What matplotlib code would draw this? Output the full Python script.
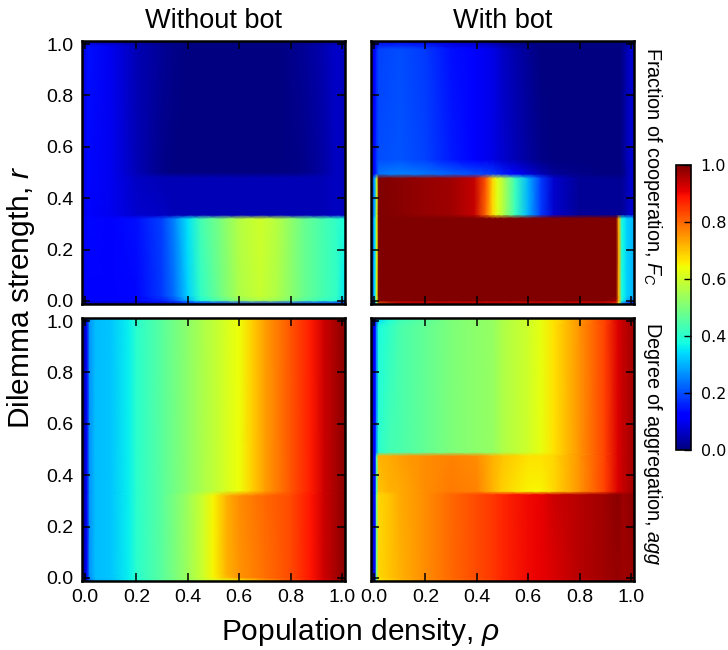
import matplotlib
matplotlib.use("Agg")
import matplotlib.pyplot as plt
import numpy as np

plt.rcParams['font.family'] = ['Liberation Sans', 'DejaVu Sans']
plt.rcParams['mathtext.fontset'] = 'custom'
plt.rcParams['mathtext.rm'] = 'Liberation Sans'
plt.rcParams['mathtext.it'] = 'Liberation Sans:italic'
plt.rcParams['mathtext.bf'] = 'Liberation Sans:bold'

tick_values = [0.0, 0.2, 0.4, 0.6, 0.8, 1.0]
col_titles = ["Without bot", "With bot"]
row_titles = ["Fraction of cooperation, $F_C$", "Degree of aggregation, $agg$"]
x_title = r"Population density, $\rho$"
y_title = "Dilemma strength, $r$"

# ---- Fraction of cooperation, without bot
fc_off_rho = [-0.012, 0.012, 0.1, 0.2, 0.3, 0.35, 0.4, 0.45, 0.53, 0.6, 0.68, 0.75, 0.85, 0.92, 0.98, 1.012]
fc_off_r = [-0.012, 0.003, 0.02, 0.32, 0.335, 0.48, 0.50, 0.99, 1.012]
fc_off_z = [
    [.04, .05, .05, .06, .07, .08, .10, .12, .14, .16, .16, .16, .15, .14, .12, .08],
    [.08, .11, .12, .13, .16, .21, .30, .39, .46, .53, .56, .54, .46, .42, .40, .30],
    [.09, .12, .12, .13, .18, .24, .33, .41, .49, .56, .59, .56, .48, .44, .41, .35],
    [.09, .13, .12, .14, .19, .26, .35, .43, .50, .57, .60, .57, .48, .44, .41, .38],
    [.08, .12, .10, .07, .06, .05, .05, .05, .05, .05, .05, .05, .05, .05, .06, .05],
    [.08, .13, .10, .06, .05, .05, .05, .05, .05, .05, .05, .05, .05, .05, .06, .05],
    [.08, .13, .10, .05, .01, .00, .00, .00, .00, .00, .00, .00, .01, .03, .06, .05],
    [.08, .14, .10, .05, .02, .01, .00, .00, .00, .00, .00, .00, .02, .04, .07, .05],
    [.03, .05, .05, .03, .01, .00, .00, .00, .00, .00, .00, .00, .01, .02, .03, .03],
]

# ---- Fraction of cooperation, with bot
fc_on_rho = [-0.012, 0.003, 0.010, 0.018, 0.1, 0.2, 0.3, 0.39, 0.435, 0.462, 0.48, 0.505, 0.55,
             0.6, 0.65, 0.7, 0.8, 0.9, 0.943, 0.953, 0.965, 0.985, 1.012]
fc_on_r = [-0.012, 0.002, 0.02, 0.322, 0.337, 0.478, 0.495, 0.55, 0.98, 1.012]
fc_on_z = [
    [.05, .20, .45, .80, .90, .90, .90, .90, .90, .90, .90, .90, .90, .90, .90, .90, .90, .90, .85, .60, .25, .15, .10],
    [.10, .33, .60, 1.0, 1.0, 1.0, 1.0, 1.0, 1.0, 1.0, 1.0, 1.0, 1.0, 1.0, 1.0, 1.0, 1.0, 1.0, .97, .72, .38, .30, .22],
    [.10, .34, .62, 1.0, 1.0, 1.0, 1.0, 1.0, 1.0, 1.0, 1.0, 1.0, 1.0, 1.0, 1.0, 1.0, 1.0, 1.0, 1.0, .72, .38, .33, .30],
    [.10, .34, .62, 1.0, 1.0, 1.0, 1.0, 1.0, 1.0, 1.0, 1.0, 1.0, 1.0, 1.0, 1.0, 1.0, 1.0, 1.0, 1.0, .72, .38, .33, .30],
    [.10, .30, .60, 1.0, .99, .98, .97, .94, .80, .68, .62, .56, .42, .30, .18, .07, .02, .02, .02, .02, .02, .05, .08],
    [.10, .30, .60, 1.0, .99, .98, .97, .94, .82, .68, .62, .56, .42, .30, .18, .07, .02, .02, .02, .02, .02, .05, .08],
    [.08, .14, .18, .24, .25, .24, .22, .20, .19, .18, .17, .15, .12, .08, .05, .02, .01, .00, .00, .00, .00, .04, .08],
    [.08, .14, .18, .20, .21, .19, .15, .11, .10, .09, .08, .07, .05, .03, .01, .00, .00, .00, .00, .00, .01, .05, .08],
    [.08, .13, .16, .19, .20, .18, .14, .11, .10, .09, .08, .06, .04, .02, .00, .00, .00, .00, .00, .00, .01, .05, .08],
    [.04, .06, .08, .09, .10, .09, .07, .05, .04, .03, .02, .01, .00, .00, .00, .00, .00, .00, .00, .00, .00, .02, .04],
]

# ---- Degree of aggregation, without bot
agg_off_rho = [-0.012, 0.006, 0.018, 0.04, 0.1, 0.17, 0.2, 0.3, 0.4, 0.46, 0.5, 0.55, 0.6, 0.65, 0.7, 0.8, 0.88, 0.93, 1.012]
agg_off_r = [-0.012, 0.002, 0.015, 0.32, 0.34, 1.012]
agg_off_z = [
    [.02, .06, .22, .30, .31, .36, .39, .46, .53, .58, .60, .62, .64, .68, .74, .82, .88, .92, .98],
    [.02, .10, .27, .31, .32, .36, .40, .46, .54, .60, .65, .71, .75, .77, .79, .83, .89, .93, .99],
    [.02, .10, .27, .31, .32, .36, .40, .46, .54, .60, .65, .72, .75, .77, .79, .83, .89, .93, .99],
    [.02, .10, .27, .31, .32, .36, .40, .46, .54, .60, .65, .72, .76, .78, .80, .83, .89, .93, .99],
    [.02, .10, .27, .31, .32, .36, .40, .46, .52, .56, .58, .61, .64, .69, .74, .82, .88, .93, .99],
    [.02, .10, .27, .31, .32, .36, .40, .46, .52, .56, .58, .61, .64, .69, .74, .82, .88, .93, .99],
]

# ---- Degree of aggregation, with bot
agg_on_rho = [-0.012, 0.004, 0.010, 0.018, 0.06, 0.1, 0.2, 0.3, 0.4, 0.46, 0.5, 0.6, 0.65, 0.7, 0.8, 0.9, 0.95, 0.97, 1.012]
agg_on_r = [-0.012, 0.002, 0.015, 0.325, 0.338, 0.475, 0.49, 0.98, 1.012]
agg_on_z = [
    [.06, .10, .45, .66, .68, .71, .76, .79, .82, .84, .87, .90, .91, .92, .94, .96, .97, .97, .97],
    [.06, .14, .50, .68, .70, .72, .76, .80, .83, .85, .87, .90, .91, .92, .95, .97, .98, .97, .98],
    [.06, .14, .50, .68, .70, .72, .76, .80, .83, .85, .87, .90, .91, .92, .95, .97, .98, .97, .98],
    [.06, .14, .50, .68, .70, .73, .76, .80, .83, .85, .87, .90, .91, .93, .95, .97, .99, .97, .99],
    [.06, .14, .45, .70, .72, .73, .76, .78, .77, .72, .69, .65, .65, .68, .75, .84, .92, .94, .97],
    [.06, .14, .45, .72, .73, .74, .76, .77, .76, .72, .70, .67, .67, .68, .75, .84, .92, .94, .97],
    [.06, .14, .28, .40, .43, .44, .47, .50, .52, .53, .56, .60, .63, .67, .75, .84, .92, .94, .97],
    [.06, .12, .26, .38, .41, .44, .47, .50, .52, .53, .56, .60, .63, .67, .75, .84, .92, .94, .97],
    [.06, .10, .22, .33, .38, .42, .46, .50, .52, .53, .56, .60, .63, .67, .75, .84, .92, .94, .97],
]

W, H = 728, 650
fig = plt.figure(figsize=(W / 100, H / 100), dpi=100)


def box(left, top, right, bottom):
    return [left / W, 1 - bottom / H, (right - left) / W, (bottom - top) / H]


panels = [
    (box(82, 41, 345, 304), fc_off_rho, fc_off_r, fc_off_z),
    (box(371, 41, 634, 304), fc_on_rho, fc_on_r, fc_on_z),
    (box(82, 318, 345, 581), agg_off_rho, agg_off_r, agg_off_z),
    (box(371, 318, 634, 581), agg_on_rho, agg_on_r, agg_on_z),
]

mesh = None
for i, (pos, rho, r, z) in enumerate(panels):
    ax = fig.add_axes(pos)
    mesh = ax.pcolormesh(rho, r, np.array(z), shading='gouraud', cmap='jet',
                         vmin=0, vmax=1, rasterized=True)
    ax.set_xlim(-0.012, 1.012)
    ax.set_ylim(-0.012, 1.012)
    ax.set_xticks(tick_values)
    ax.set_yticks(tick_values)
    ax.tick_params(direction='in', top=True, right=True, length=6, width=1.1,
                   labelsize=14, pad=6, color='black')
    ax.tick_params(labelbottom=i >= 2, labelleft=i % 2 == 0)
    ax.set_xticklabels([f"{t:.1f}" for t in tick_values] if i >= 2 else [])
    ax.set_yticklabels([f"{t:.1f}" for t in tick_values] if i % 2 == 0 else [])
    for s in ax.spines.values():
        s.set_linewidth(1.8)
    if i < 2:
        ax.set_title(col_titles[i], fontsize=19.5, pad=9)
    if i % 2 == 1:
        ax.text(1.025, 0.522, row_titles[i // 2], rotation=-90, transform=ax.transAxes,
                ha='left', va='center', fontsize=14.3)

fig.text(360 / W, 1 - 632 / H, x_title, ha='center', va='center', fontsize=21.5)
fig.text(21 / W, 1 - 297 / H, y_title, rotation=90, ha='center', va='center', fontsize=21.5)

cax = fig.add_axes(box(676, 165, 691, 450))
cb = fig.colorbar(mesh, cax=cax, ticks=tick_values)
cb.ax.set_yticklabels([f"{t:.1f}" for t in tick_values], family='DejaVu Sans', fontsize=11.5)
cb.ax.tick_params(direction='in', length=5, width=1, pad=7)
cb.outline.set_linewidth(1.2)

fig.savefig("out.png", dpi=100)
